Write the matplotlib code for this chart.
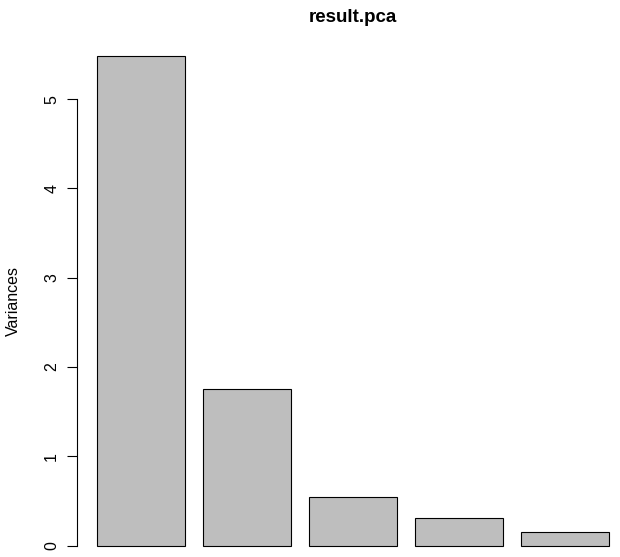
import matplotlib
matplotlib.use("Agg")
import matplotlib.pyplot as plt

# screeplot of result.pca
components = ["Comp.1", "Comp.2", "Comp.3", "Comp.4", "Comp.5"]
variances = [5.486, 1.753, 0.545, 0.31, 0.153]
yticks = [0, 1, 2, 3, 4, 5]

plt.rcParams['font.family'] = ['Liberation Sans', 'DejaVu Sans']

W, H = 620, 557
fig = plt.figure(figsize=(W / 100, H / 100), dpi=100)

# plot region in pixels (R style), partly outside the canvas
left, right, top, bottom = 76.5, 629.5, 36.2, 565.2
ax = fig.add_axes([left / W, (H - bottom) / H, (right - left) / W, (bottom - top) / H])

# R barplot geometry: width 1, space 0.2
xs = [0.2 + i * 1.2 + 0.5 for i in range(len(variances))]
ax.bar(xs, variances, width=1.0, color="#bebebe", edgecolor="black", linewidth=0.8)

xr = (0.2, 0.2 + 1.2 * len(variances) - 0.2)
ext = 0.04 * (xr[1] - xr[0])
ax.set_xlim(xr[0] - ext, xr[1] + ext)
ymax = max(variances)
ax.set_ylim(-0.04 * ymax, ymax * 1.04)

for s in ["top", "right", "bottom"]:
    ax.spines[s].set_visible(False)
ax.spines["left"].set_bounds(yticks[0], yticks[-1])
ax.spines["left"].set_linewidth(0.8)
ax.set_xticks([])
ax.set_yticks(yticks)
ax.set_yticklabels([str(t) for t in yticks], rotation=90, va="center", fontsize=11.5)
ax.tick_params(axis="y", length=7, width=0.8, pad=5.5)

ax.set_ylabel("Variances", fontsize=11.5)
ax.yaxis.set_label_coords((20.5 - left) / (right - left), 0.5)

fig.text(353 / W, 1 - 17 / H, "result.pca", ha="center", va="center",
         fontsize=13.5, fontweight="bold")

fig.savefig("out.png", dpi=100)
